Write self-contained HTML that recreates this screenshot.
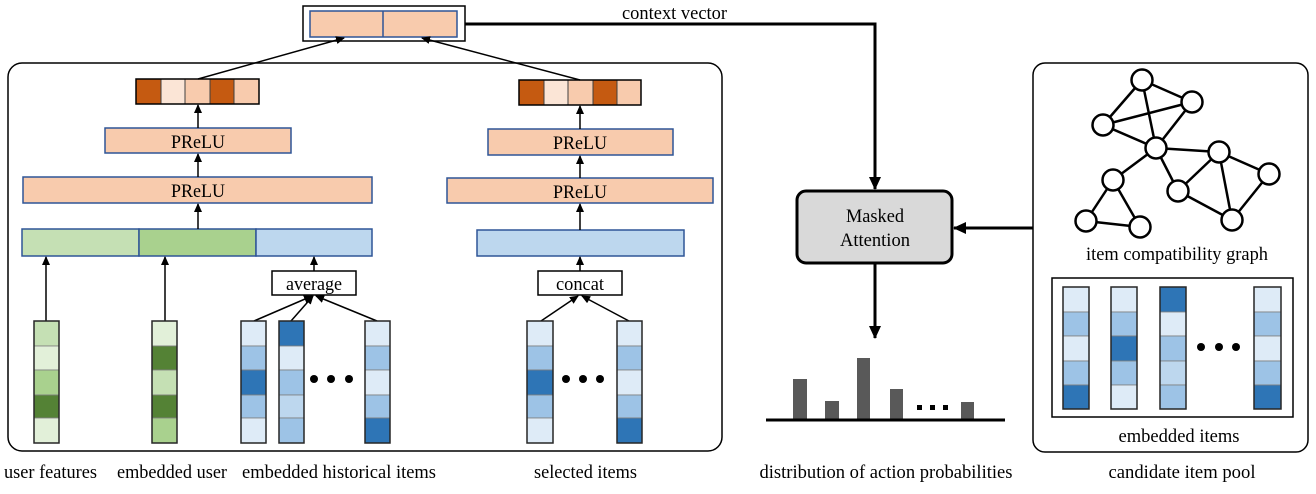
<!DOCTYPE html>
<html><head><meta charset="utf-8"><style>
html,body{margin:0;padding:0;background:#fff;}
svg{display:block;}
text{font-family:"Liberation Serif",serif;font-size:19px;fill:#000;}
</style></head><body>
<svg width="1316" height="494" viewBox="0 0 1316 494" xmlns="http://www.w3.org/2000/svg">
<defs>
<marker id="a" markerWidth="10" markerHeight="10" refX="8" refY="5" orient="auto" markerUnits="userSpaceOnUse">
<path d="M0,1 L9,5 L0,9 Z" fill="#000"/></marker>
<marker id="b" markerWidth="14" markerHeight="14" refX="12" refY="7" orient="auto" markerUnits="userSpaceOnUse">
<path d="M0,1 L13,7 L0,13 Z" fill="#000"/></marker>
</defs>

<rect x="303" y="6" width="162" height="35" fill="#fff" stroke="#000" stroke-width="1.5"/>
<rect x="310" y="11" width="147" height="26" fill="#f8cbad" stroke="#2f5597" stroke-width="1.5"/>
<line x1="383" y1="11" x2="383" y2="37" stroke="#2f5597" stroke-width="1.5"/>
<text x="622" y="19" textLength="105" lengthAdjust="spacingAndGlyphs">context vector</text>
<polyline points="465,24 875,24 875,189" fill="none" stroke="#000" stroke-width="3" marker-end="url(#b)"/>

<rect x="8" y="63" width="714" height="388" rx="14" fill="none" stroke="#000" stroke-width="1.5"/>

<g stroke="#404040" stroke-width="1">
<rect x="136" y="79" width="25" height="25" fill="#c55a11"/>
<rect x="161" y="79" width="24" height="25" fill="#fbe5d6"/>
<rect x="185" y="79" width="25" height="25" fill="#f8cbad"/>
<rect x="210" y="79" width="24" height="25" fill="#c55a11"/>
<rect x="234" y="79" width="25" height="25" fill="#f8cbad"/>
<rect x="519" y="80" width="25" height="25" fill="#c55a11"/>
<rect x="544" y="80" width="24" height="25" fill="#fbe5d6"/>
<rect x="568" y="80" width="25" height="25" fill="#f8cbad"/>
<rect x="593" y="80" width="24" height="25" fill="#c55a11"/>
<rect x="617" y="80" width="24" height="25" fill="#f8cbad"/>
</g>
<rect x="136" y="79" width="123" height="25" fill="none" stroke="#000" stroke-width="1.5"/>
<rect x="519" y="80" width="122" height="25" fill="none" stroke="#000" stroke-width="1.5"/>

<g fill="#f8cbad" stroke="#2f5597" stroke-width="1.5">
<rect x="105" y="128" width="186" height="25"/>
<rect x="23" y="177" width="349" height="26"/>
<rect x="488" y="129" width="185" height="26"/>
<rect x="447" y="178" width="266" height="25"/>
</g>
<text x="198" y="148" text-anchor="middle" textLength="54" lengthAdjust="spacingAndGlyphs">PReLU</text>
<text x="198" y="197" text-anchor="middle" textLength="54" lengthAdjust="spacingAndGlyphs">PReLU</text>
<text x="580" y="149" text-anchor="middle" textLength="54" lengthAdjust="spacingAndGlyphs">PReLU</text>
<text x="580" y="198" text-anchor="middle" textLength="54" lengthAdjust="spacingAndGlyphs">PReLU</text>

<g stroke="#2f5597" stroke-width="1.5">
<rect x="22" y="229" width="117" height="27" fill="#c5e0b4"/>
<rect x="139" y="229" width="117" height="27" fill="#a9d18e"/>
<rect x="256" y="229" width="116" height="27" fill="#bdd7ee"/>
<rect x="477" y="230" width="207" height="26" fill="#bdd7ee"/>
</g>

<rect x="272" y="271" width="84" height="24" fill="#fff" stroke="#000" stroke-width="1.5"/>
<text x="314" y="290" text-anchor="middle" textLength="56" lengthAdjust="spacingAndGlyphs">average</text>
<rect x="538" y="271" width="84" height="24" fill="#fff" stroke="#000" stroke-width="1.5"/>
<text x="580" y="290" text-anchor="middle" textLength="48" lengthAdjust="spacingAndGlyphs">concat</text>

<g stroke="#000" stroke-width="1.5" fill="none" marker-end="url(#a)">
<line x1="198" y1="229" x2="198" y2="204"/>
<line x1="198" y1="177" x2="198" y2="154"/>
<line x1="198" y1="128" x2="198" y2="105"/>
<line x1="580" y1="230" x2="580" y2="204"/>
<line x1="580" y1="178" x2="580" y2="156"/>
<line x1="580" y1="129" x2="580" y2="106"/>
<line x1="198" y1="79" x2="344" y2="38"/>
<line x1="580" y1="80" x2="422" y2="38"/>
<line x1="46" y1="321" x2="46" y2="257"/>
<line x1="165" y1="321" x2="165" y2="257"/>
<line x1="314" y1="271" x2="314" y2="257"/>
<line x1="580" y1="271" x2="580" y2="257"/>
<line x1="254" y1="321" x2="312" y2="296"/>
<line x1="291" y1="321" x2="313" y2="296"/>
<line x1="377" y1="321" x2="316" y2="296"/>
<line x1="541" y1="321" x2="578" y2="296"/>
<line x1="629" y1="321" x2="582" y2="296"/>
</g>

<g stroke="#7f7f7f" stroke-width="0.8">
<rect x="34" y="321" width="25" height="25" fill="#c5e0b4"/>
<rect x="34" y="346" width="25" height="24" fill="#e2f0d9"/>
<rect x="34" y="370" width="25" height="25" fill="#a9d18e"/>
<rect x="34" y="395" width="25" height="23" fill="#548235"/>
<rect x="34" y="418" width="25" height="25" fill="#e2f0d9"/>
<rect x="152" y="321" width="25" height="25" fill="#e2f0d9"/>
<rect x="152" y="346" width="25" height="24" fill="#548235"/>
<rect x="152" y="370" width="25" height="25" fill="#c5e0b4"/>
<rect x="152" y="395" width="25" height="23" fill="#548235"/>
<rect x="152" y="418" width="25" height="25" fill="#a9d18e"/>
<rect x="241" y="321" width="25" height="25" fill="#deebf7"/>
<rect x="241" y="346" width="25" height="24" fill="#9dc3e6"/>
<rect x="241" y="370" width="25" height="25" fill="#2e75b6"/>
<rect x="241" y="395" width="25" height="23" fill="#9dc3e6"/>
<rect x="241" y="418" width="25" height="25" fill="#deebf7"/>
<rect x="279" y="321" width="25" height="25" fill="#2e75b6"/>
<rect x="279" y="346" width="25" height="24" fill="#deebf7"/>
<rect x="279" y="370" width="25" height="25" fill="#9dc3e6"/>
<rect x="279" y="395" width="25" height="23" fill="#bdd7ee"/>
<rect x="279" y="418" width="25" height="25" fill="#9dc3e6"/>
<rect x="365" y="321" width="25" height="25" fill="#deebf7"/>
<rect x="365" y="346" width="25" height="24" fill="#9dc3e6"/>
<rect x="365" y="370" width="25" height="25" fill="#deebf7"/>
<rect x="365" y="395" width="25" height="23" fill="#9dc3e6"/>
<rect x="365" y="418" width="25" height="25" fill="#2e75b6"/>
<rect x="527" y="321" width="26" height="25" fill="#deebf7"/>
<rect x="527" y="346" width="26" height="24" fill="#9dc3e6"/>
<rect x="527" y="370" width="26" height="25" fill="#2e75b6"/>
<rect x="527" y="395" width="26" height="23" fill="#9dc3e6"/>
<rect x="527" y="418" width="26" height="25" fill="#deebf7"/>
<rect x="617" y="321" width="25" height="25" fill="#deebf7"/>
<rect x="617" y="346" width="25" height="24" fill="#9dc3e6"/>
<rect x="617" y="370" width="25" height="25" fill="#deebf7"/>
<rect x="617" y="395" width="25" height="23" fill="#9dc3e6"/>
<rect x="617" y="418" width="25" height="25" fill="#2e75b6"/>
</g>
<g fill="none" stroke="#262626" stroke-width="1.5">
<rect x="34" y="321" width="25" height="122"/>
<rect x="152" y="321" width="25" height="122"/>
<rect x="241" y="321" width="25" height="122"/>
<rect x="279" y="321" width="25" height="122"/>
<rect x="365" y="321" width="25" height="122"/>
<rect x="527" y="321" width="26" height="122"/>
<rect x="617" y="321" width="25" height="122"/>
</g>
<g fill="#000">
<circle cx="314" cy="379" r="4"/><circle cx="331" cy="379" r="4"/><circle cx="349" cy="379" r="4"/>
<circle cx="566" cy="379" r="4"/><circle cx="583" cy="379" r="4"/><circle cx="600" cy="379" r="4"/>
</g>

<text x="4" y="478" textLength="93" lengthAdjust="spacingAndGlyphs">user features</text>
<text x="117" y="478" textLength="110" lengthAdjust="spacingAndGlyphs">embedded user</text>
<text x="242" y="478" textLength="194" lengthAdjust="spacingAndGlyphs">embedded historical items</text>
<text x="534" y="478" textLength="103" lengthAdjust="spacingAndGlyphs">selected items</text>

<rect x="797" y="191" width="155" height="72" rx="9" fill="#d9d9d9" stroke="#000" stroke-width="3"/>
<text x="875" y="222" text-anchor="middle" textLength="58" lengthAdjust="spacingAndGlyphs">Masked</text>
<text x="875" y="246" text-anchor="middle" textLength="70" lengthAdjust="spacingAndGlyphs">Attention</text>
<line x1="1033" y1="228" x2="954" y2="228" stroke="#000" stroke-width="3" marker-end="url(#b)"/>
<line x1="875" y1="263" x2="875" y2="338" stroke="#000" stroke-width="3" marker-end="url(#b)"/>

<g fill="#595959">
<rect x="793" y="379" width="14" height="41"/>
<rect x="825" y="401" width="14" height="19"/>
<rect x="857" y="358" width="13" height="62"/>
<rect x="890" y="389" width="13" height="31"/>
<rect x="961" y="402" width="13" height="18"/>
</g>
<g fill="#000">
<rect x="917" y="405" width="5" height="5"/><rect x="930" y="405" width="5" height="5"/><rect x="943" y="405" width="5" height="5"/>
</g>
<line x1="766" y1="420" x2="1005" y2="420" stroke="#000" stroke-width="3"/>
<text x="886" y="478" text-anchor="middle" textLength="253" lengthAdjust="spacingAndGlyphs">distribution of action probabilities</text>

<rect x="1033" y="63" width="275" height="389" rx="12" fill="none" stroke="#000" stroke-width="1.5"/>
<g stroke="#000" stroke-width="2.5">
<line x1="1142" y1="80" x2="1192" y2="102"/>
<line x1="1142" y1="80" x2="1103" y2="125"/>
<line x1="1142" y1="80" x2="1156" y2="148"/>
<line x1="1103" y1="125" x2="1192" y2="102"/>
<line x1="1103" y1="125" x2="1156" y2="148"/>
<line x1="1192" y1="102" x2="1156" y2="148"/>
<line x1="1156" y1="148" x2="1219" y2="152"/>
<line x1="1156" y1="148" x2="1113" y2="180"/>
<line x1="1156" y1="148" x2="1178" y2="191"/>
<line x1="1113" y1="180" x2="1086" y2="221"/>
<line x1="1113" y1="180" x2="1140" y2="227"/>
<line x1="1086" y1="221" x2="1140" y2="227"/>
<line x1="1219" y1="152" x2="1178" y2="191"/>
<line x1="1219" y1="152" x2="1232" y2="220"/>
<line x1="1219" y1="152" x2="1269" y2="174"/>
<line x1="1269" y1="174" x2="1232" y2="220"/>
<line x1="1178" y1="191" x2="1232" y2="220"/>
</g>
<g fill="#fff" stroke="#000" stroke-width="2.5">
<circle cx="1142" cy="80" r="10.5"/><circle cx="1192" cy="102" r="10.5"/><circle cx="1103" cy="125" r="10.5"/>
<circle cx="1156" cy="148" r="10.5"/><circle cx="1219" cy="152" r="10.5"/><circle cx="1113" cy="180" r="10.5"/>
<circle cx="1269" cy="174" r="10.5"/><circle cx="1178" cy="191" r="10.5"/><circle cx="1086" cy="221" r="10.5"/>
<circle cx="1140" cy="227" r="10.5"/><circle cx="1232" cy="220" r="10.5"/>
</g>
<text x="1177" y="260" text-anchor="middle" textLength="182" lengthAdjust="spacingAndGlyphs">item compatibility graph</text>

<rect x="1052" y="278" width="241" height="139" fill="none" stroke="#000" stroke-width="1.5"/>
<g stroke="#7f7f7f" stroke-width="0.8">
<rect x="1063" y="287" width="26" height="25" fill="#deebf7"/>
<rect x="1063" y="312" width="26" height="24" fill="#9dc3e6"/>
<rect x="1063" y="336" width="26" height="25" fill="#deebf7"/>
<rect x="1063" y="361" width="26" height="24" fill="#9dc3e6"/>
<rect x="1063" y="385" width="26" height="24" fill="#2e75b6"/>
<rect x="1111" y="287" width="26" height="25" fill="#deebf7"/>
<rect x="1111" y="312" width="26" height="24" fill="#9dc3e6"/>
<rect x="1111" y="336" width="26" height="25" fill="#2e75b6"/>
<rect x="1111" y="361" width="26" height="24" fill="#9dc3e6"/>
<rect x="1111" y="385" width="26" height="24" fill="#deebf7"/>
<rect x="1160" y="287" width="26" height="25" fill="#2e75b6"/>
<rect x="1160" y="312" width="26" height="24" fill="#deebf7"/>
<rect x="1160" y="336" width="26" height="25" fill="#9dc3e6"/>
<rect x="1160" y="361" width="26" height="24" fill="#bdd7ee"/>
<rect x="1160" y="385" width="26" height="24" fill="#9dc3e6"/>
<rect x="1254" y="287" width="27" height="25" fill="#deebf7"/>
<rect x="1254" y="312" width="27" height="24" fill="#9dc3e6"/>
<rect x="1254" y="336" width="27" height="25" fill="#deebf7"/>
<rect x="1254" y="361" width="27" height="24" fill="#9dc3e6"/>
<rect x="1254" y="385" width="27" height="24" fill="#2e75b6"/>
</g>
<g fill="none" stroke="#262626" stroke-width="1.5">
<rect x="1063" y="287" width="26" height="122"/>
<rect x="1111" y="287" width="26" height="122"/>
<rect x="1160" y="287" width="26" height="122"/>
<rect x="1254" y="287" width="27" height="122"/>
</g>
<g fill="#000">
<circle cx="1201" cy="347" r="4"/><circle cx="1219" cy="347" r="4"/><circle cx="1236" cy="347" r="4"/>
</g>
<text x="1179" y="442" text-anchor="middle" textLength="121" lengthAdjust="spacingAndGlyphs">embedded items</text>
<text x="1182" y="478" text-anchor="middle" textLength="147" lengthAdjust="spacingAndGlyphs">candidate item pool</text>
</svg>
</body></html>
